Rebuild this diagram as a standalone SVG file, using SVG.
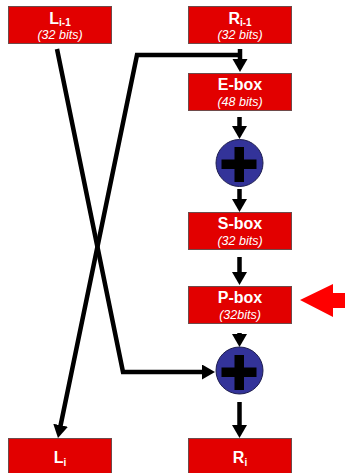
<svg xmlns="http://www.w3.org/2000/svg" width="345" height="473" viewBox="0 0 345 473">
  <style>
    .box { fill: #e20000; stroke: #6e4a4a; stroke-width: 1; }
    .title { font-family: "Liberation Sans", Arial, sans-serif; font-weight: bold; font-size: 16px; fill: #ffffff; text-anchor: middle; }
    .sub { font-size: 10px; }
    .bits { font-family: "Liberation Sans", Arial, sans-serif; font-style: italic; font-size: 12.5px; fill: #ffffff; text-anchor: middle; }
    .wire { fill: none; stroke: #000000; stroke-width: 4.5; stroke-linejoin: miter; }
    .xor { fill: #333399; stroke: #1c1c4e; stroke-width: 1; }
    .plus { fill: #000000; }
  </style>
  <defs>
    <marker id="head" markerUnits="userSpaceOnUse" markerWidth="16" markerHeight="16" refX="3" refY="7.5" orient="auto">
      <path d="M0,0 L13,7.5 L0,15 z" fill="#000000"/>
    </marker>
  </defs>

  <!-- connectors -->
  <g id="connectors">
    <!-- R(i-1) feeds E-box and crosses over to L(i) -->
    <path class="wire" d="M242,55 H137 L60,428.2" marker-end="url(#head)"/>
    <path class="wire" d="M240,49 V62" marker-end="url(#head)"/>
    <!-- L(i-1) crosses over to the second XOR -->
    <path class="wire" d="M57,49 L123,372 H205" marker-end="url(#head)"/>
    <path class="wire" d="M239.5,117 V129" marker-end="url(#head)"/>
    <path class="wire" d="M239.5,189 V202" marker-end="url(#head)"/>
    <path class="wire" d="M239.5,257 V275" marker-end="url(#head)"/>
    <path class="wire" d="M239.5,333 V337" marker-end="url(#head)"/>
    <path class="wire" d="M239.5,402 V428" marker-end="url(#head)"/>
  </g>

  <g id="L_prev">
    <rect class="box" x="8.5" y="6.5" width="103" height="37"/>
    <text class="title" x="60" y="24">L<tspan class="sub" dy="2">i-1</tspan></text>
    <text class="bits" x="60" y="39">(32 bits)</text>
  </g>

  <g id="R_prev">
    <rect class="box" x="188.5" y="6.5" width="103" height="37"/>
    <text class="title" x="240" y="24">R<tspan class="sub" dy="2">i-1</tspan></text>
    <text class="bits" x="240" y="39">(32 bits)</text>
  </g>

  <g id="E_box">
    <rect class="box" x="188.5" y="73.5" width="103" height="37"/>
    <text class="title" x="240" y="90">E-box</text>
    <text class="bits" x="240" y="105.5">(48 bits)</text>
  </g>

  <g id="xor1">
    <circle class="xor" cx="239.5" cy="163" r="23.5"/>
    <rect class="plus" x="221.5" y="159.5" width="35" height="9.5"/>
    <rect class="plus" x="234.5" y="147" width="9.5" height="35"/>
  </g>

  <g id="S_box">
    <rect class="box" x="188.5" y="212.5" width="103" height="37"/>
    <text class="title" x="240" y="229">S-box</text>
    <text class="bits" x="240" y="245">(32 bits)</text>
  </g>

  <g id="P_box">
    <rect class="box" x="188.5" y="286.5" width="103" height="37"/>
    <text class="title" x="240" y="303">P-box</text>
    <text class="bits" x="240" y="318.5">(32bits)</text>
  </g>

  <g id="highlight">
    <polygon points="300,300 333,284 333,293 345,293 345,308 333,308 333,317" fill="#ff0000"/>
  </g>

  <g id="xor2">
    <circle class="xor" cx="239.5" cy="370.5" r="23.5"/>
    <rect class="plus" x="221.5" y="367.5" width="35" height="9.5"/>
    <rect class="plus" x="234.5" y="355" width="9.5" height="35"/>
  </g>

  <g id="L_next">
    <rect class="box" x="8.5" y="438.5" width="103" height="36"/>
    <text class="title" x="60" y="463">L<tspan class="sub" dy="3">i</tspan></text>
  </g>

  <g id="R_next">
    <rect class="box" x="188.5" y="438.5" width="103" height="36"/>
    <text class="title" x="240" y="463">R<tspan class="sub" dy="3">i</tspan></text>
  </g>
</svg>
